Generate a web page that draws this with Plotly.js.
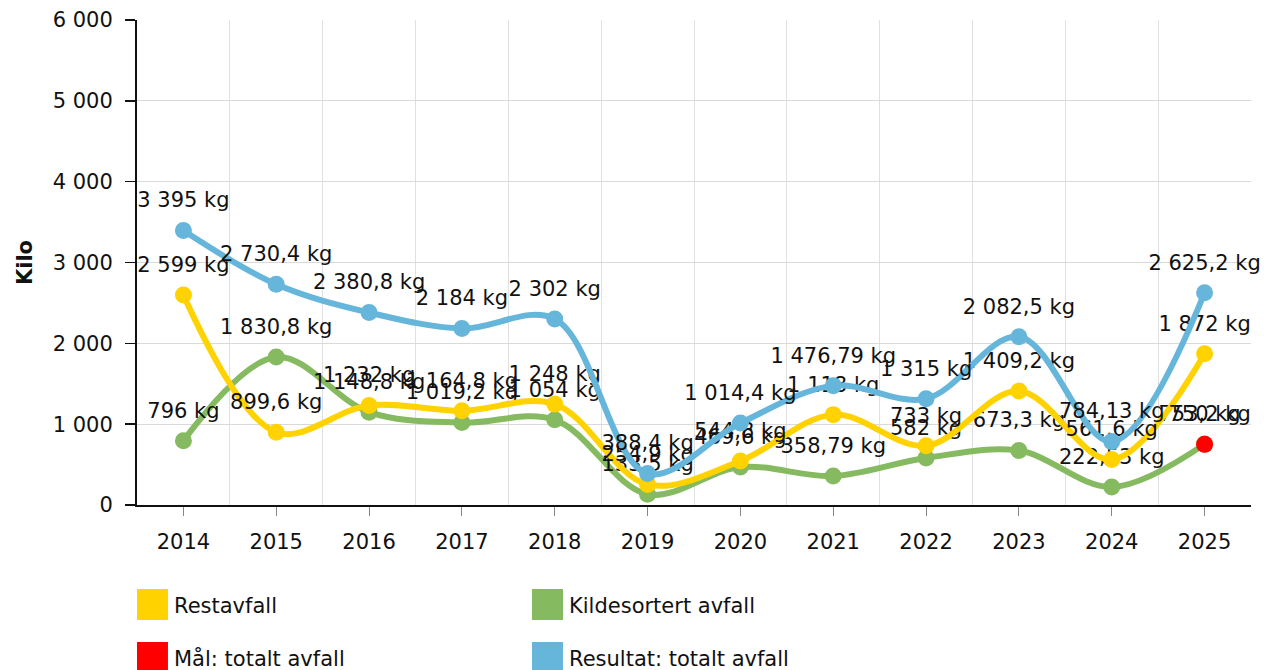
<!DOCTYPE html>
<html>
<head>
<meta charset="utf-8">
<script src="https://cdn.plot.ly/plotly-3.0.1.min.js"></script>
<style>html,body{margin:0;padding:0;background:#fff;}#chart{width:1265px;height:670px;}</style>
</head>
<body>
<div id="chart"></div>
<script>
const years = [2014, 2015, 2016, 2017, 2018, 2019, 2020, 2021, 2022, 2023, 2024, 2025];
const restavfall = [2599, 899.6, 1232, 1164.8, 1248, 254.9, 544.8, 1118, 733, 1409.2, 561.6, 1872];
const kildesortert = [796, 1830.8, 1148.8, 1019.2, 1054, 133.5, 469.6, 358.79, 582, 673.3, 222.53, 753.2];
const resultatTotalt = [3395, 2730.4, 2380.8, 2184, 2302, 388.4, 1014.4, 1476.79, 1315, 2082.5, 784.13, 2625.2];
const maalYears = [2025];
const maalTotalt = [750];
const yTickVals = [0, 1000, 2000, 3000, 4000, 5000, 6000];
const yTickText = ['0', '1 000', '2 000', '3 000', '4 000', '5 000', '6 000'];
const legendNames = ['Restavfall', 'Kildesortert avfall', 'Mål: totalt avfall', 'Resultat: totalt avfall'];

const colors = {rest: '#FFD200', kilde: '#86BA60', maal: '#FF0000', total: '#66B6DC'};
const legendColors = [colors.rest, colors.kilde, colors.maal, colors.total];

function fmt(v) {
  const s = String(v);
  const parts = s.split('.');
  const intPart = parts[0].replace(/\B(?=(\d{3})+(?!\d))/g, ' ');
  return (parts.length > 1 ? intPart + ',' + parts[1] : intPart) + ' kg';
}

const FONT = 'DejaVu Sans, Verdana, sans-serif';
const labelFont = {family: FONT, size: 21, color: '#111'};

function lineTrace(x, y, color, withLine) {
  return {
    x: x, y: y, type: 'scatter', mode: withLine ? 'lines+markers' : 'markers',
    line: {color: color, width: 6, shape: 'spline', smoothing: 1},
    marker: {color: color, size: 17},
    showlegend: false, hoverinfo: 'x+y', cliponaxis: true
  };
}
function textTrace(x, y) {
  return {
    x: x, y: y, type: 'scatter', mode: 'markers+text',
    marker: {color: 'rgba(0,0,0,0)', size: 27},
    text: y.map(fmt), textposition: 'top center', textfont: labelFont,
    showlegend: false, hoverinfo: 'skip', cliponaxis: false
  };
}

const data = [
  lineTrace(years, kildesortert, colors.kilde, true), textTrace(years, kildesortert),
  lineTrace(years, restavfall, colors.rest, true), textTrace(years, restavfall),
  lineTrace(years, resultatTotalt, colors.total, true), textTrace(years, resultatTotalt),
  lineTrace(maalYears, maalTotalt, colors.maal, false), textTrace(maalYears, maalTotalt)
];

// legend built from legend arrays
const shapes = [];
const annotations = [];
const colX = [0, 0.3546];
const rowY = [[-0.1732, -0.2371], [-0.2825, -0.3464]];
legendNames.forEach((name, i) => {
  const c = i % 2, r = Math.floor(i / 2);
  shapes.push({type: 'rect', xref: 'paper', yref: 'paper', x0: colX[c], x1: colX[c] + 0.0278,
    y0: rowY[r][1], y1: rowY[r][0], fillcolor: legendColors[i], line: {width: 0}});
  annotations.push({xref: 'paper', yref: 'paper', x: colX[c] + 0.0315, y: (rowY[r][0] + rowY[r][1]) / 2 - 0.003,
    xanchor: 'left', yanchor: 'middle', text: name, showarrow: false,
    font: {family: FONT, size: 21, color: '#111'}});
});

const layout = {
  width: 1265, height: 670,
  margin: {l: 137, r: 14, t: 20, b: 165},
  paper_bgcolor: '#fff', plot_bgcolor: '#fff',
  showlegend: false,
  font: {family: FONT, size: 21, color: '#111'},
  xaxis: {
    type: 'linear', range: [2013.5, 2025.5], tickmode: 'array', tickvals: years,
    ticktext: years.map(String), showgrid: false, zeroline: false,
    showline: true, linecolor: '#111', linewidth: 2,
    ticks: 'outside', ticklen: 9, tickcolor: '#888', tickwidth: 1,
    ticklabelstandoff: 8,
    tickfont: {family: FONT, size: 21, color: '#111'},
    minor: {tickmode: 'linear', tick0: 2013.5, dtick: 1, showgrid: true, gridcolor: '#e0e0e0', gridwidth: 1, ticks: ''},
    fixedrange: true
  },
  yaxis: {
    range: [0, 6000], tickmode: 'array', tickvals: yTickVals, ticktext: yTickText,
    showgrid: true, gridcolor: '#d9d9d9', gridwidth: 1, zeroline: false,
    showline: true, linecolor: '#111', linewidth: 2,
    ticks: 'outside', ticklen: 10, tickcolor: '#111', tickwidth: 1.5,
    ticklabelstandoff: 8,
    tickfont: {family: FONT, size: 21, color: '#111'},
    title: {text: '<b>Kilo</b>', font: {family: FONT, size: 21, color: '#111'}, standoff: 14},
    fixedrange: true
  },
  shapes: shapes,
  annotations: annotations
};

Plotly.newPlot('chart', data, layout, {displayModeBar: false, staticPlot: true});
</script>
</body>
</html>
